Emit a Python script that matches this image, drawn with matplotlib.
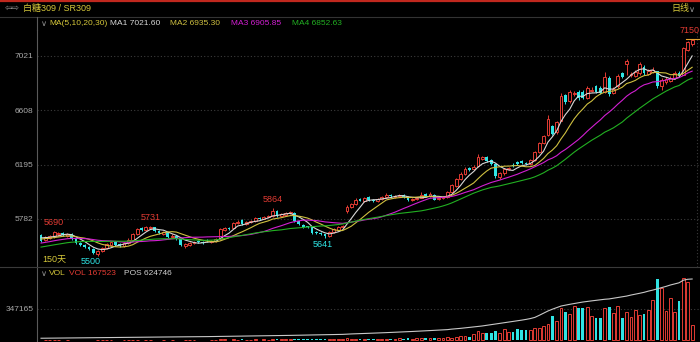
import numpy as np
import pandas as pd
import matplotlib
matplotlib.use("Agg")
import matplotlib.pyplot as plt
from matplotlib.lines import Line2D

plt.rcParams['font.family'] = ['Liberation Sans', 'Noto Sans CJK SC', 'DejaVu Sans']
plt.rcParams['font.size'] = 6

# 日线 OHLC (150 根)
opens = [
    5660, 5620, 5640, 5650, 5665, 5672, 5655, 5670, 5635, 5598,
    5585, 5572, 5555, 5515, 5535, 5560, 5588, 5605, 5590, 5578,
    5600, 5625, 5665, 5712, 5700, 5715, 5718, 5692, 5668, 5680,
    5645, 5655, 5628, 5575, 5588, 5598, 5612, 5608, 5618, 5608,
    5615, 5628, 5700, 5712, 5715, 5752, 5775, 5745, 5758, 5768,
    5792, 5785, 5800, 5805, 5840, 5808, 5815, 5825, 5830, 5765,
    5740, 5725, 5718, 5680, 5675, 5665, 5655, 5680, 5700, 5718,
    5840, 5875, 5895, 5935, 5920, 5948, 5930, 5918, 5932, 5950,
    5962, 5950, 5955, 5965, 5950, 5928, 5935, 5945, 5975, 5958,
    5965, 5932, 5940, 5948, 5985, 6035, 6085, 6125, 6170, 6160,
    6185, 6240, 6250, 6228, 6200, 6100, 6130, 6165, 6195, 6215,
    6225, 6208, 6198, 6230, 6290, 6360, 6420, 6490, 6440, 6530,
    6725, 6680, 6735, 6750, 6745, 6705, 6755, 6790, 6780, 6750,
    6855, 6740, 6790, 6890, 6960, 6875, 6870, 6890, 6940, 6885,
    6900, 6905, 6790, 6820, 6830, 6850, 6895, 6880, 7070, 7110,
]
highs = [
    5668, 5655, 5662, 5690, 5685, 5680, 5678, 5675, 5640, 5605,
    5592, 5578, 5560, 5545, 5570, 5600, 5615, 5612, 5598, 5610,
    5635, 5672, 5712, 5720, 5725, 5731, 5722, 5698, 5688, 5685,
    5665, 5660, 5632, 5598, 5608, 5618, 5620, 5615, 5630, 5622,
    5640, 5712, 5722, 5720, 5762, 5772, 5782, 5765, 5772, 5798,
    5800, 5808, 5815, 5864, 5848, 5825, 5838, 5842, 5835, 5770,
    5745, 5730, 5722, 5688, 5680, 5670, 5688, 5712, 5728, 5740,
    5885, 5905, 5940, 5942, 5952, 5955, 5935, 5942, 5958, 5980,
    5970, 5962, 5975, 5972, 5955, 5942, 5948, 5985, 5982, 5988,
    5970, 5948, 5955, 5995, 6048, 6095, 6140, 6178, 6178, 6195,
    6276, 6262, 6258, 6235, 6210, 6140, 6172, 6180, 6205, 6225,
    6230, 6212, 6240, 6300, 6370, 6420, 6575, 6500, 6530, 6740,
    6735, 6760, 6755, 6765, 6760, 6790, 6785, 6800, 6790, 6900,
    6870, 6785, 6885, 6900, 6995, 6900, 6915, 6975, 6950, 6925,
    6935, 6910, 6850, 6860, 6870, 6905, 6905, 7090, 7135, 7150,
]
lows = [
    5605, 5612, 5632, 5640, 5655, 5650, 5645, 5620, 5590, 5575,
    5560, 5545, 5515, 5500, 5528, 5552, 5580, 5575, 5568, 5570,
    5592, 5618, 5658, 5690, 5692, 5705, 5682, 5668, 5660, 5640,
    5638, 5620, 5578, 5565, 5580, 5592, 5598, 5590, 5605, 5600,
    5608, 5622, 5692, 5700, 5710, 5745, 5740, 5738, 5752, 5760,
    5778, 5780, 5795, 5800, 5798, 5800, 5810, 5818, 5762, 5735,
    5715, 5710, 5668, 5665, 5658, 5641, 5648, 5672, 5695, 5712,
    5830, 5865, 5890, 5915, 5912, 5918, 5910, 5910, 5925, 5942,
    5945, 5940, 5948, 5940, 5918, 5922, 5928, 5940, 5952, 5950,
    5925, 5925, 5935, 5942, 5978, 6028, 6078, 6118, 6150, 6155,
    6178, 6232, 6215, 6190, 6095, 6085, 6120, 6158, 6178, 6192,
    6200, 6190, 6192, 6225, 6285, 6350, 6415, 6420, 6430, 6525,
    6655, 6665, 6720, 6690, 6695, 6695, 6745, 6740, 6730, 6740,
    6715, 6730, 6780, 6850, 6880, 6860, 6860, 6880, 6880, 6875,
    6890, 6780, 6760, 6810, 6820, 6845, 6860, 6875, 7060, 7100,
]
closes = [
    5615, 5645, 5650, 5680, 5675, 5660, 5668, 5630, 5600, 5585,
    5570, 5555, 5525, 5535, 5560, 5590, 5605, 5585, 5578, 5600,
    5625, 5665, 5705, 5700, 5718, 5722, 5690, 5675, 5680, 5648,
    5655, 5630, 5585, 5590, 5600, 5610, 5605, 5600, 5612, 5615,
    5630, 5705, 5712, 5708, 5755, 5762, 5745, 5758, 5765, 5790,
    5785, 5800, 5808, 5845, 5805, 5818, 5828, 5832, 5770, 5742,
    5722, 5718, 5675, 5672, 5665, 5652, 5680, 5705, 5720, 5732,
    5875, 5895, 5930, 5922, 5945, 5925, 5918, 5935, 5950, 5968,
    5955, 5958, 5968, 5948, 5925, 5935, 5942, 5968, 5960, 5972,
    5930, 5940, 5948, 5985, 6040, 6085, 6125, 6165, 6158, 6180,
    6255, 6250, 6225, 6200, 6105, 6130, 6165, 6172, 6185, 6200,
    6210, 6198, 6230, 6290, 6360, 6410, 6540, 6430, 6520, 6720,
    6670, 6745, 6742, 6705, 6705, 6780, 6765, 6750, 6740, 6860,
    6730, 6770, 6870, 6865, 6985, 6885, 6900, 6960, 6890, 6910,
    6915, 6790, 6840, 6845, 6855, 6890, 6870, 7080, 7128, 7140,
]
# 图表之前的收盘价 (均线用)
prior_closes = [5480, 5492, 5488, 5501, 5510, 5505, 5518, 5525, 5520, 5532,
                5540, 5535, 5548, 5562, 5570, 5565, 5578, 5592, 5600, 5595,
                5608, 5622, 5630, 5625, 5618, 5632, 5640, 5648, 5655]

volumes = [
    4200, 3800, 5100, 4600, 3900, 4300, 5200, 4800, 6100, 5400,
    4700, 5300, 6800, 7200, 5900, 5100, 4800, 5600, 4900, 5300,
    6200, 7400, 8100, 6900, 6300, 7800, 6600, 5900, 6100, 6800,
    5800, 7200, 8400, 7600, 6900, 6200, 5800, 6400, 7100, 6700,
    7300, 11200, 8900, 7800, 9600, 8700, 9100, 8300, 7900, 9200,
    8600, 9400, 8800, 13100, 11400, 9200, 9800, 10300, 12600, 11800,
    10900, 9700, 13400, 10200, 9800, 11600, 10400, 11200, 10800, 11900,
    21300, 16800, 18200, 14900, 15600, 14200, 13800, 15100, 16400, 17200,
    14600, 15300, 22900, 19200, 23400, 18800, 20900, 27200, 22700, 25300,
    27400, 23600, 25800, 31400, 22000, 40700, 48000, 48000, 40700, 70200,
    103500, 85000, 77600, 77600, 103500, 77600, 125700, 96100, 96100, 122000,
    114600, 114600, 114600, 133100, 140500, 159000, 177500, 270000, 214400, 362300,
    318000, 288400, 380800, 355000, 355000, 373400, 270000, 244000, 244000, 362300,
    373400, 306900, 380800, 244000, 318000, 262500, 336400, 281000, 288400, 336400,
    447300, 680200, 576700, 329000, 465800, 318000, 436200, 687600, 650700, 167523,
]
positions = [
    21000, 21400, 21900, 22300, 22600, 23100, 23500, 23800, 24400, 24900,
    25300, 25800, 26500, 27100, 27400, 27900, 28200, 28600, 29100, 29500,
    29800, 30400, 31000, 31300, 31900, 32400, 32700, 33100, 33500, 33800,
    34200, 34700, 35300, 35700, 36000, 36400, 36900, 37300, 37600, 38200,
    38700, 39600, 40200, 40700, 41500, 42100, 42600, 43200, 43700, 44400,
    45000, 45700, 46300, 47400, 48100, 48700, 49400, 50100, 51000, 51800,
    52600, 53300, 54400, 55200, 56000, 56900, 57700, 58600, 59500, 60400,
    63100, 64800, 66700, 68200, 69800, 71300, 72800, 74500, 76300, 78200,
    80000, 81900, 84100, 86000, 88200, 90100, 92100, 94600, 96800, 99100,
    101500, 103700, 105900, 108800, 114000, 117500, 121800, 126400, 130900, 135800,
    141200, 146300, 152800, 159600, 166100, 172900, 179800, 186400, 192700, 198200,
    205600, 213100, 221800, 233400, 254200, 276800, 298500, 316700, 333100, 349200,
    358300, 366900, 374600, 382800, 390100, 396400, 401800, 407300, 412500, 418200,
    421600, 428900, 436200, 443100, 450700, 461200, 469800, 479300, 488900, 501400,
    511700, 523800, 536400, 549100, 563200, 574600, 585900, 612700, 621900, 624746,
]

price_ticks = [7021, 6608, 6195, 5782]
vol_tick = 347165
ma_periods = [5, 10, 20, 30]
ma_colors = ['#d8d8d8', '#cfc040', '#d21fd2', '#22b022']
high_marks = [(3, '5690'), (25, '5731'), (53, '5864'), (149, '7150')]
low_marks = [(12, '5500'), (65, '5641')]

RED = '#e23b33'
CYAN = '#2fe4e4'
GRAY = '#a8a8a8'
YELLOW = '#d6c83a'
BG = '#000000'

o = np.array(opens, float)
h = np.array(highs, float)
l = np.array(lows, float)
c = np.array(closes, float)
v = np.array(volumes, float)
n = len(c)
idx = np.arange(n)
up = c >= o
dn = ~up

all_close = pd.Series(prior_closes + closes, dtype=float)
mas = [all_close.rolling(p, min_periods=1).mean().to_numpy()[len(prior_closes):]
       for p in ma_periods]

W, H = 700, 342
fig = plt.figure(figsize=(7, 3.42), dpi=100, facecolor=BG)


def fx(x):
    return x / W


def fy(y):
    return 1 - y / H


ax = fig.add_axes([fx(37), fy(267), fx(663), (267 - 30) / H])
axv = fig.add_axes([fx(37), 0, fx(663), 75 / H])
for a in (ax, axv):
    a.set_facecolor(BG)
    for s in a.spines.values():
        s.set_visible(False)
    a.spines['left'].set_visible(True)
    a.spines['left'].set_color('#5a5a5a')
    a.spines['left'].set_linewidth(0.8)
    a.set_xlim(-0.92, 150.8)
    a.set_xticks([])
    a.tick_params(axis='y', length=0, colors=GRAY, labelsize=6, pad=2.5)

# 价格
ax.set_ylim(5417, 7218.6)
ax.set_yticks(price_ticks)
ax.grid(axis='y', color='#3c3c3c', linestyle=(0, (1, 2)), linewidth=0.8)
ax.axvline(150.2, color='#3c3c3c', linestyle=(0, (1, 2)), linewidth=0.8)

bw = 0.64
ax.vlines(idx[dn], l[dn], h[dn], color=CYAN, linewidth=0.7, zorder=2)
ax.bar(idx[dn], (o - c)[dn], bottom=c[dn], width=bw, color=CYAN, linewidth=0, zorder=2)
ax.vlines(idx[up], l[up], o[up], color=RED, linewidth=0.7, zorder=2)
ax.vlines(idx[up], c[up], h[up], color=RED, linewidth=0.7, zorder=2)
ax.bar(idx[up], np.maximum((c - o)[up], 1), bottom=o[up], width=bw, facecolor=BG,
       edgecolor=RED, linewidth=0.7, zorder=2)

for ma, col in zip(mas, ma_colors):
    ax.plot(idx, ma, color=col, linewidth=0.8, zorder=3)

for i, txt in high_marks:
    ax.annotate(txt, xy=(i, h[i]), xytext=(-2 if i == 149 else 0, 3), textcoords='offset points',
                ha='center', va='bottom', color=RED, fontsize=6.5)
for i, txt in low_marks:
    ax.annotate(txt, xy=(i, l[i]), xytext=(-2, -2), textcoords='offset points',
                ha='center', va='top', color=CYAN, fontsize=6.5)
ax.plot([147.6, 151], [7150, 7150], color='#e0a030', linewidth=0.8, zorder=3)
ax.text(0.2, 5440, '150天', color=YELLOW, fontsize=6.5, va='bottom', ha='left')

# 成交量 / 持仓
axv.set_ylim(-18900, 813000)
axv.set_yticks([vol_tick])
axv.grid(axis='y', color='#3c3c3c', linestyle=(0, (1, 2)), linewidth=0.8)
axv.bar(idx[dn], v[dn], width=bw, color=CYAN, linewidth=0, zorder=2)
axv.bar(idx[up], v[up], width=bw, facecolor=BG, edgecolor=RED, linewidth=0.7, zorder=2)
axp = axv.twinx()
axp.set_ylim(-17300, 747000)
axp.axis('off')
axp.plot(idx, positions, color='#c8c8c8', linewidth=0.8, zorder=3)

# 顶部
fig.add_artist(Line2D([0, 1], [fy(0.8), fy(0.8)], color='#c0281e', linewidth=1.6))
fig.add_artist(Line2D([0, 1], [fy(16.5), fy(16.5)], color='#333333', linewidth=0.8))
fig.add_artist(Line2D([0, 1], [fy(267), fy(267)], color='#3a3a3a', linewidth=0.8))
fig.add_artist(Line2D([fx(37.3), fx(37.3)], [fy(17), fy(30)], color='#5a5a5a', linewidth=0.8))

fig.text(fx(5), fy(8.5), '⇦⇨', color='#909090', fontsize=6.5, va='center',
         family=['DejaVu Sans'])
fig.text(fx(23), fy(8.5), '白糖309 / SR309', color=YELLOW, fontsize=6.5, va='center')
fig.text(fx(671), fy(9), '日线', color=YELLOW, fontsize=6.5, va='center')
fig.text(fx(689), fy(9), '∨', color='#909090', fontsize=6, va='center',
         family=['DejaVu Sans'])

legend = [(41, '∨', '#909090'), (49, 'MA(5,10,20,30)', YELLOW),
          (110, 'MA1 7021.60', '#d8d8d8'), (170, 'MA2 6935.30', '#cfc040'),
          (231, 'MA3 6905.85', '#d21fd2'), (292, 'MA4 6852.63', '#22b022')]
for x, txt, col in legend:
    fig.text(fx(x), fy(23.5), txt, color=col, fontsize=6, va='center',
             family=['DejaVu Sans'] if txt == '∨' else None)

vol_legend = [(41, '∨', '#909090'), (49, 'VOL', YELLOW),
              (69, 'VOL 167523', RED), (124, 'POS 624746', '#d0d0d0')]
for x, txt, col in vol_legend:
    fig.text(fx(x), fy(273.5), txt, color=col, fontsize=6, va='center',
             family=['DejaVu Sans'] if txt == '∨' else None)

fig.savefig('out.png', dpi=100, facecolor=BG)
